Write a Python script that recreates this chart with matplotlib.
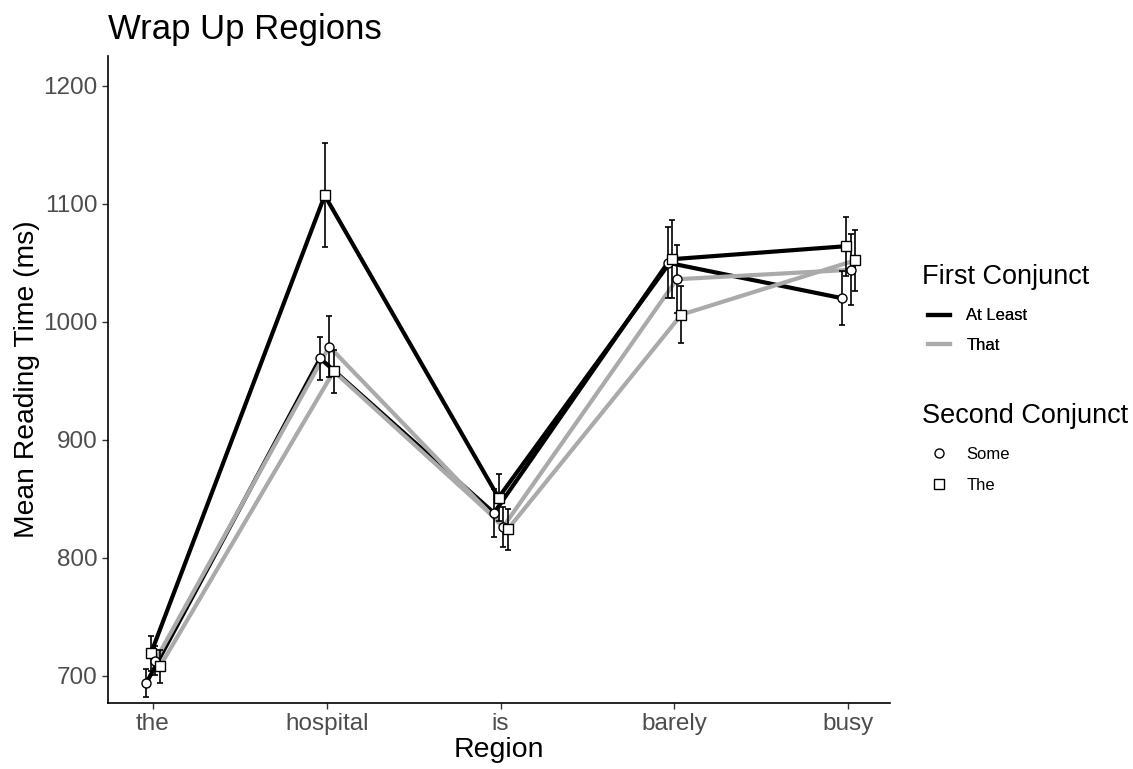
import matplotlib
matplotlib.use('Agg')
import matplotlib.pyplot as plt
from matplotlib.lines import Line2D
import numpy as np

plt.rcParams['font.family'] = ['Liberation Sans', 'DejaVu Sans']

regions = ['the', 'hospital', 'is', 'barely', 'busy']
first_conj = ['At Least', 'At Least', 'That', 'That']
second_conj = ['Some', 'The', 'Some', 'The']

# mean reading times per group (At Least/Some, At Least/The, That/Some, That/The)
means = [
    [694, 969, 838, 1050, 1020],
    [719, 1107, 851, 1053, 1064],
    [713, 979, 826, 1036, 1044],
    [708, 958, 824, 1006, 1052],
]
ses = [
    [12, 18, 20, 30, 23],
    [15, 44, 20, 33, 25],
    [12, 26, 17, 29, 30],
    [14, 18, 17, 24, 26],
]

line_colors = {'At Least': 'black', 'That': '#aaaaaa'}
markers = {'Some': 'o', 'The': 's'}
dodge = [-0.038, -0.012, 0.014, 0.040]

fig = plt.figure(figsize=(11.33, 7.69), dpi=100)
ax = fig.add_axes([0.0953, 0.0858, 0.6902, 0.8412])

x = np.arange(1, len(regions) + 1)
for i in range(len(means)):
    xs = x + dodge[i]
    ax.plot(xs, means[i], color=line_colors[first_conj[i]], linewidth=3, zorder=2)
for i in range(len(means)):
    xs = x + dodge[i]
    ax.errorbar(xs, means[i], yerr=ses[i], fmt='none', ecolor='black',
                elinewidth=1.2, capsize=2.5, capthick=1.2, zorder=3)
    ax.plot(xs, means[i], linestyle='none', marker=markers[second_conj[i]],
            markersize=6.5, markerfacecolor='white', markeredgecolor='black',
            markeredgewidth=1.0, zorder=4)

ax.set_xlim(0.741, 5.24)
ax.set_ylim(677, 1225)
ax.set_xticks(x)
ax.set_xticklabels(regions)
ax.set_yticks([700, 800, 900, 1000, 1100, 1200])
ax.tick_params(axis='both', labelsize=17.5, labelcolor='#4d4d4d', color='#333333',
               length=4, width=1)
for side in ['top', 'right']:
    ax.spines[side].set_visible(False)
for side in ['left', 'bottom']:
    ax.spines[side].set_linewidth(1.2)

ax.set_xlabel('Region', fontsize=20.5, labelpad=1)
ax.set_ylabel('Mean Reading Time (ms)', fontsize=20.3, labelpad=2)
fig.text(0.0953, 0.962, 'Wrap Up Regions', fontsize=25, va='center', ha='left')

# legends: titles as separate text, entries via fig.legend
fig.text(0.8138, 0.6400, 'First Conjunct', fontsize=19.5, va='center', ha='left')
fig.text(0.8138, 0.4590, 'Second Conjunct', fontsize=19.5, va='center', ha='left')

h1 = [Line2D([], [], color=line_colors[k], linewidth=3) for k in ['At Least', 'That']]
leg1 = fig.legend(h1, ['At Least', 'That'], loc='upper left',
                  bbox_to_anchor=(0.819, 0.599), frameon=False, fontsize=12,
                  handlelength=1.3, handletextpad=1.0, labelspacing=0.85,
                  borderaxespad=0, borderpad=0)
h2 = [Line2D([], [], linestyle='none', marker=markers[k], markersize=6.5,
             markerfacecolor='white', markeredgecolor='black') for k in ['Some', 'The']]
leg2 = fig.legend(h2, ['Some', 'The'], loc='upper left',
                  bbox_to_anchor=(0.819, 0.419), frameon=False, fontsize=12,
                  handlelength=1.3, handletextpad=1.0, labelspacing=0.95,
                  borderaxespad=0, borderpad=0)
fig.add_artist(leg1)

fig.savefig('out.png', dpi=100)
